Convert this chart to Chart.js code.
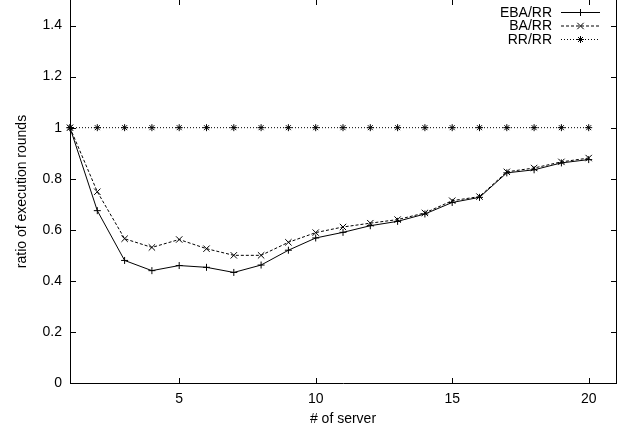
<!DOCTYPE html>
<html>
<head>
<meta charset="utf-8">
<style>
html, body { margin: 0; padding: 0; background: #fff; }
</style>
</head>
<body>
<canvas id="roundsChart" width="623" height="441"></canvas>
<script src="https://cdn.jsdelivr.net/npm/chart.js@4.4.1/dist/chart.umd.min.js"></script>
<script>
const servers = [1, 2, 3, 4, 5, 6, 7, 8, 9, 10, 11, 12, 13, 14, 15, 16, 17, 18, 19, 20];
const ebaRR = [1.0, 0.675, 0.48, 0.44, 0.46, 0.453, 0.433, 0.462, 0.52, 0.568, 0.59, 0.616, 0.633, 0.662, 0.707, 0.727, 0.823, 0.835, 0.862, 0.875];
const baRR = [1.0, 0.749, 0.565, 0.531, 0.562, 0.526, 0.50, 0.50, 0.551, 0.589, 0.611, 0.626, 0.64, 0.666, 0.714, 0.73, 0.827, 0.842, 0.866, 0.881];
const rrRR = [1, 1, 1, 1, 1, 1, 1, 1, 1, 1, 1, 1, 1, 1, 1, 1, 1, 1, 1, 1];
const xTicks = [5, 10, 15, 20];
const yTicks = [0, 0.2, 0.4, 0.6, 0.8, 1, 1.2, 1.4];

const font = '"Liberation Sans", Arial, Helvetica, sans-serif';
const fontSize = 14;

function pts(values) {
    return values.map((v, i) => ({ x: servers[i], y: v }));
}

// gnuplot style border with inward ticks on all four sides
const frame = {
    id: 'frame',
    beforeDatasetsDraw(chart) {
        const { ctx, chartArea: a, scales: { x, y } } = chart;
        ctx.save();
        ctx.strokeStyle = '#000';
        ctx.lineWidth = 1;
        ctx.beginPath();
        ctx.moveTo(a.left + 0.5, a.top - 0.5);
        ctx.lineTo(a.left + 0.5, a.bottom + 0.5);
        ctx.lineTo(a.right + 0.5, a.bottom + 0.5);
        ctx.lineTo(a.right + 0.5, a.top - 0.5);
        yTicks.forEach(v => {
            const py = Math.round(y.getPixelForValue(v)) + 0.5;
            ctx.moveTo(a.left, py); ctx.lineTo(a.left + 6, py);
            ctx.moveTo(a.right - 5, py); ctx.lineTo(a.right + 1, py);
        });
        xTicks.forEach(v => {
            const px = Math.round(x.getPixelForValue(v)) + 0.5;
            ctx.moveTo(px, a.bottom); ctx.lineTo(px, a.bottom - 5);
            ctx.moveTo(px, a.top); ctx.lineTo(px, a.top + 5);
        });
        ctx.stroke();
        ctx.restore();
    }
};

// key in the top right corner, like gnuplot draws it
const key = {
    id: 'key',
    afterDraw(chart) {
        const ctx = chart.ctx;
        ctx.save();
        ctx.font = fontSize + 'px ' + font;
        ctx.fillStyle = '#000';
        ctx.strokeStyle = '#000';
        ctx.lineWidth = 1;
        ctx.textAlign = 'right';
        ctx.textBaseline = 'middle';
        chart.data.datasets.forEach((ds, i) => {
            const y = 12.5 + i * 13.5;
            ctx.fillText(ds.label, 552, y + 0.5);
            ctx.setLineDash(ds.borderDash || []);
            ctx.beginPath();
            ctx.moveTo(561, y);
            ctx.lineTo(600, y);
            ctx.stroke();
            ctx.setLineDash([]);
            Chart.helpers.drawPoint(ctx, { pointStyle: ds.pointStyle, radius: ds.pointRadius, borderWidth: 1, rotation: 0 }, 580.5, y);
        });
        ctx.restore();
    }
};

let ctx1 = document.getElementById('roundsChart').getContext('2d');
let roundsChart = new Chart(ctx1, {
    type: 'line',
    data: {
        datasets: [{
            label: 'EBA/RR',
            data: pts(ebaRR),
            borderColor: '#000',
            borderWidth: 1,
            pointStyle: 'cross',
            pointRadius: 3.5,
            pointBorderColor: '#000',
            pointBorderWidth: 1,
            tension: 0
        }, {
            label: 'BA/RR',
            data: pts(baRR),
            borderColor: '#000',
            borderWidth: 1,
            borderDash: [3, 2],
            pointStyle: 'crossRot',
            pointRadius: 4.5,
            pointBorderColor: '#000',
            pointBorderWidth: 1,
            tension: 0
        }, {
            label: 'RR/RR',
            data: pts(rrRR),
            borderColor: '#000',
            borderWidth: 1,
            borderDash: [1, 2],
            pointStyle: 'star',
            pointRadius: 3.5,
            pointBorderColor: '#000',
            pointBorderWidth: 1,
            tension: 0
        }]
    },
    options: {
        responsive: false,
        animation: false,
        devicePixelRatio: 1,
        clip: false,
        layout: { autoPadding: false, padding: { top: 0, right: 7, left: 0, bottom: 0 } },
        plugins: {
            legend: { display: false },
            tooltip: { enabled: false }
        },
        scales: {
            x: {
                type: 'linear',
                min: 1,
                max: 21,
                grid: { display: false, drawTicks: false },
                border: { display: false },
                afterBuildTicks: s => { s.ticks = xTicks.map(v => ({ value: v })); },
                afterFit: s => { s.height = 58; s.paddingLeft = 0; s.paddingRight = 0; },
                ticks: {
                    color: '#000',
                    padding: 8,
                    maxRotation: 0,
                    font: { family: font, size: fontSize }
                },
                title: {
                    display: true,
                    text: '# of server',
                    color: '#000',
                    padding: { top: 0, bottom: 13.5 },
                    font: { family: font, size: fontSize }
                }
            },
            y: {
                min: 0,
                max: 1.5,
                grid: { display: false, drawTicks: false },
                border: { display: false },
                afterBuildTicks: s => { s.ticks = yTicks.map(v => ({ value: v })); },
                afterFit: s => { s.width = 70; s.paddingTop = 0; s.paddingBottom = 0; },
                ticks: {
                    color: '#000',
                    padding: 8,
                    font: { family: font, size: fontSize },
                    callback: v => String(Math.round(v * 10) / 10)
                },
                title: {
                    display: true,
                    text: 'ratio of execution rounds',
                    color: '#000',
                    padding: { top: 13.5, bottom: 0 },
                    font: { family: font, size: fontSize }
                }
            }
        }
    },
    plugins: [frame, key]
});
</script>
</body>
</html>
